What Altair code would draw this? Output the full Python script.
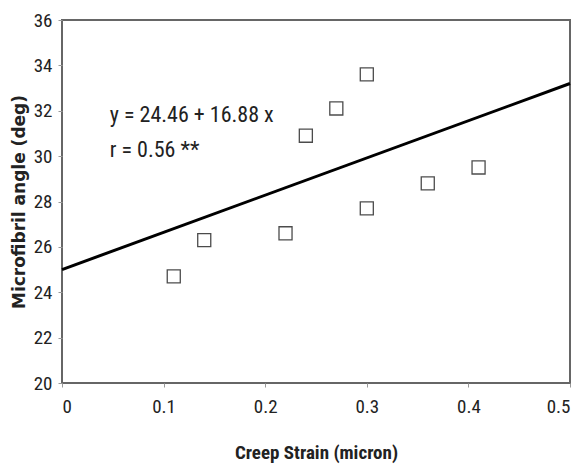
import altair as alt
import pandas as pd

# data
strain = [0.11, 0.14, 0.22, 0.24, 0.27, 0.30, 0.30, 0.36, 0.41]
angle = [24.7, 26.3, 26.6, 30.9, 32.1, 33.6, 27.7, 28.8, 29.5]
fit_x = [0.0, 0.5]
fit_y = [25.0, 33.2]
eq_lines = ["y = 24.46 + 16.88 x", "r  = 0.56 **"]
eq_x = [0.047, 0.047]
eq_y = [31.8, 30.25]

NARROW = "Liberation Sans Narrow, Arial Narrow, Roboto Condensed, sans-serif"

pts = pd.DataFrame({"x": strain, "y": angle})
fit = pd.DataFrame({"x": fit_x, "y": fit_y})
eq = pd.DataFrame({"x": eq_x, "y": eq_y, "t": eq_lines})

xs = alt.Scale(domain=[0, 0.5], nice=False)
ys = alt.Scale(domain=[20, 36], nice=False)

xaxis = alt.Axis(title="Creep Strain (micron)", values=[0, 0.1, 0.2, 0.3, 0.4, 0.5],
                 format="~g", grid=False, domain=False, tickColor="#999", tickSize=4,
                 labelFont=NARROW, labelFontSize=19, labelColor="#222", labelPadding=10,
                 titleFont=NARROW, titleFontSize=19, titleFontWeight="bold",
                 titleColor="#222", titlePadding=27)
yaxis = alt.Axis(title="Microfibril angle (deg)", values=list(range(20, 37, 2)),
                 grid=False, domain=False, tickColor="#999", tickSize=4,
                 labelFont=NARROW, labelFontSize=19, labelColor="#222", labelPadding=6,
                 titleFont="DejaVu Sans", titleFontSize=17, titleFontWeight="bold",
                 titleColor="#222", titlePadding=5)

points = alt.Chart(pts).mark_point(shape="square", filled=False, color="black",
                                   size=170, strokeWidth=1.3).encode(
    x=alt.X("x:Q", scale=xs, axis=xaxis),
    y=alt.Y("y:Q", scale=ys, axis=yaxis),
)
line = alt.Chart(fit).mark_line(color="black", strokeWidth=3).encode(
    x=alt.X("x:Q", scale=xs), y=alt.Y("y:Q", scale=ys))
text = alt.Chart(eq).mark_text(align="left", baseline="middle", font=NARROW,
                               fontSize=22, color="#222").encode(
    x=alt.X("x:Q", scale=xs), y=alt.Y("y:Q", scale=ys), text="t:N")

chart = alt.layer(line, points, text).properties(
    width=508, height=363,
    autosize=alt.AutoSizeParams(type="none"),
    padding={"left": 62, "top": 20, "right": 14, "bottom": 87},
    background="white",
).configure_view(stroke="#666", strokeWidth=2)

chart.save("out.html", embed_options={"renderer": "svg", "actions": False})
